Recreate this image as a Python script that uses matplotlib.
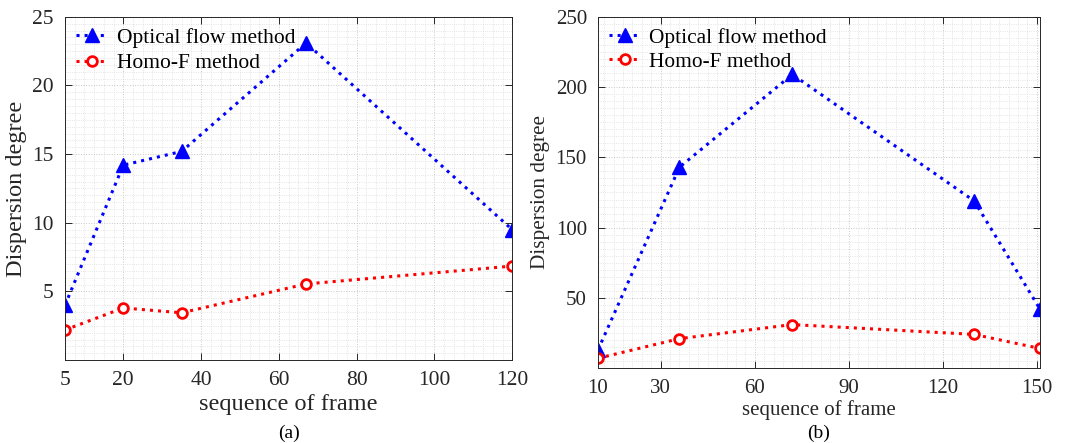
import numpy as np
import matplotlib.pyplot as plt
from matplotlib.ticker import MultipleLocator

plt.rcParams['font.family'] = ['Liberation Serif', 'DejaVu Serif']

# (a) data
frames_a = [5, 20, 35, 67, 120]
optical_a = [4.0, 14.2, 15.2, 23.1, 9.5]
homo_a = [2.2, 3.8, 3.45, 5.55, 6.85]

# (b) data
frames_b = [10, 36, 72, 130, 151]
optical_b = [13, 143, 209, 119, 42]
homo_b = [7, 21, 31, 24, 14]

fig = plt.figure(figsize=(10.65, 4.43), dpi=100)
ax1 = fig.add_axes([0.061, 0.187, 0.420, 0.775])
ax2 = fig.add_axes([0.5615, 0.169, 0.415, 0.793])


def style_axes(ax, fs):
    ax.set_facecolor('white')
    ax.grid(which='minor', color='#dcdcdc', linestyle=':', linewidth=0.6)
    ax.grid(which='major', color='#c8c8c8', linestyle=':', linewidth=0.7)
    ax.set_axisbelow(True)
    ax.tick_params(which='major', direction='in', top=True, right=True,
                   length=5, width=0.7, colors='#262626', labelsize=fs, pad=8)
    ax.tick_params(which='minor', length=0, top=True, right=True)
    for s in ax.spines.values():
        s.set_color('#262626')
        s.set_linewidth(0.7)


# panel (a)
ax1.plot(frames_a, optical_a, ':', color='blue', lw=2.2, marker='^', ms=10,
         label='Optical flow method')
ax1.plot(frames_a, homo_a, ':', color='red', lw=2.2, marker='o', ms=7,
         mfc='white', mew=2, label='Homo-F method')
ax1.set_xlim(5, 120)
ax1.set_ylim(0, 25)
ax1.set_xticks([5, 20, 40, 60, 80, 100, 120])
ax1.set_yticks([5, 10, 15, 20, 25])
ax1.xaxis.set_minor_locator(MultipleLocator(2.5))
ax1.yaxis.set_minor_locator(MultipleLocator(0.5))
style_axes(ax1, 15.5)
ax1.set_xlabel('sequence of frame', fontsize=17.5, color='#262626', labelpad=3)
ax1.set_ylabel('Dispersion degree', fontsize=17.5, color='#262626', labelpad=4)
ax1.legend(loc='upper left', fontsize=15.5, frameon=False, handlelength=1.5,
           borderaxespad=0.1, labelspacing=0.25, handletextpad=0.4,
           borderpad=0.4)
ax1.text(0.5, -0.213, '(a)', transform=ax1.transAxes, ha='center',
         va='center', fontsize=14)

# panel (b)
ax2.plot(frames_b, optical_b, ':', color='blue', lw=2.2, marker='^', ms=10,
         label='Optical flow method')
ax2.plot(frames_b, homo_b, ':', color='red', lw=2.2, marker='o', ms=7,
         mfc='white', mew=2, label='Homo-F method')
ax2.set_xlim(10, 151)
ax2.set_ylim(0, 250)
ax2.set_xticks([10, 30, 60, 90, 120, 150])
ax2.set_yticks([50, 100, 150, 200, 250])
ax2.xaxis.set_minor_locator(MultipleLocator(3))
ax2.yaxis.set_minor_locator(MultipleLocator(5))
style_axes(ax2, 15)
ax2.set_xlabel('sequence of frame', fontsize=15, color='#262626', labelpad=1)
ax2.set_ylabel('Dispersion degree', fontsize=15.3, color='#262626', labelpad=4)
ax2.legend(loc='upper left', fontsize=15.4, frameon=False, handlelength=1.5,
           borderaxespad=0.1, labelspacing=0.2, handletextpad=0.4,
           borderpad=0.4)
ax2.text(0.5, -0.185, '(b)', transform=ax2.transAxes, ha='center',
         va='center', fontsize=14)

fig.savefig('out.png', dpi=100, facecolor='white')
